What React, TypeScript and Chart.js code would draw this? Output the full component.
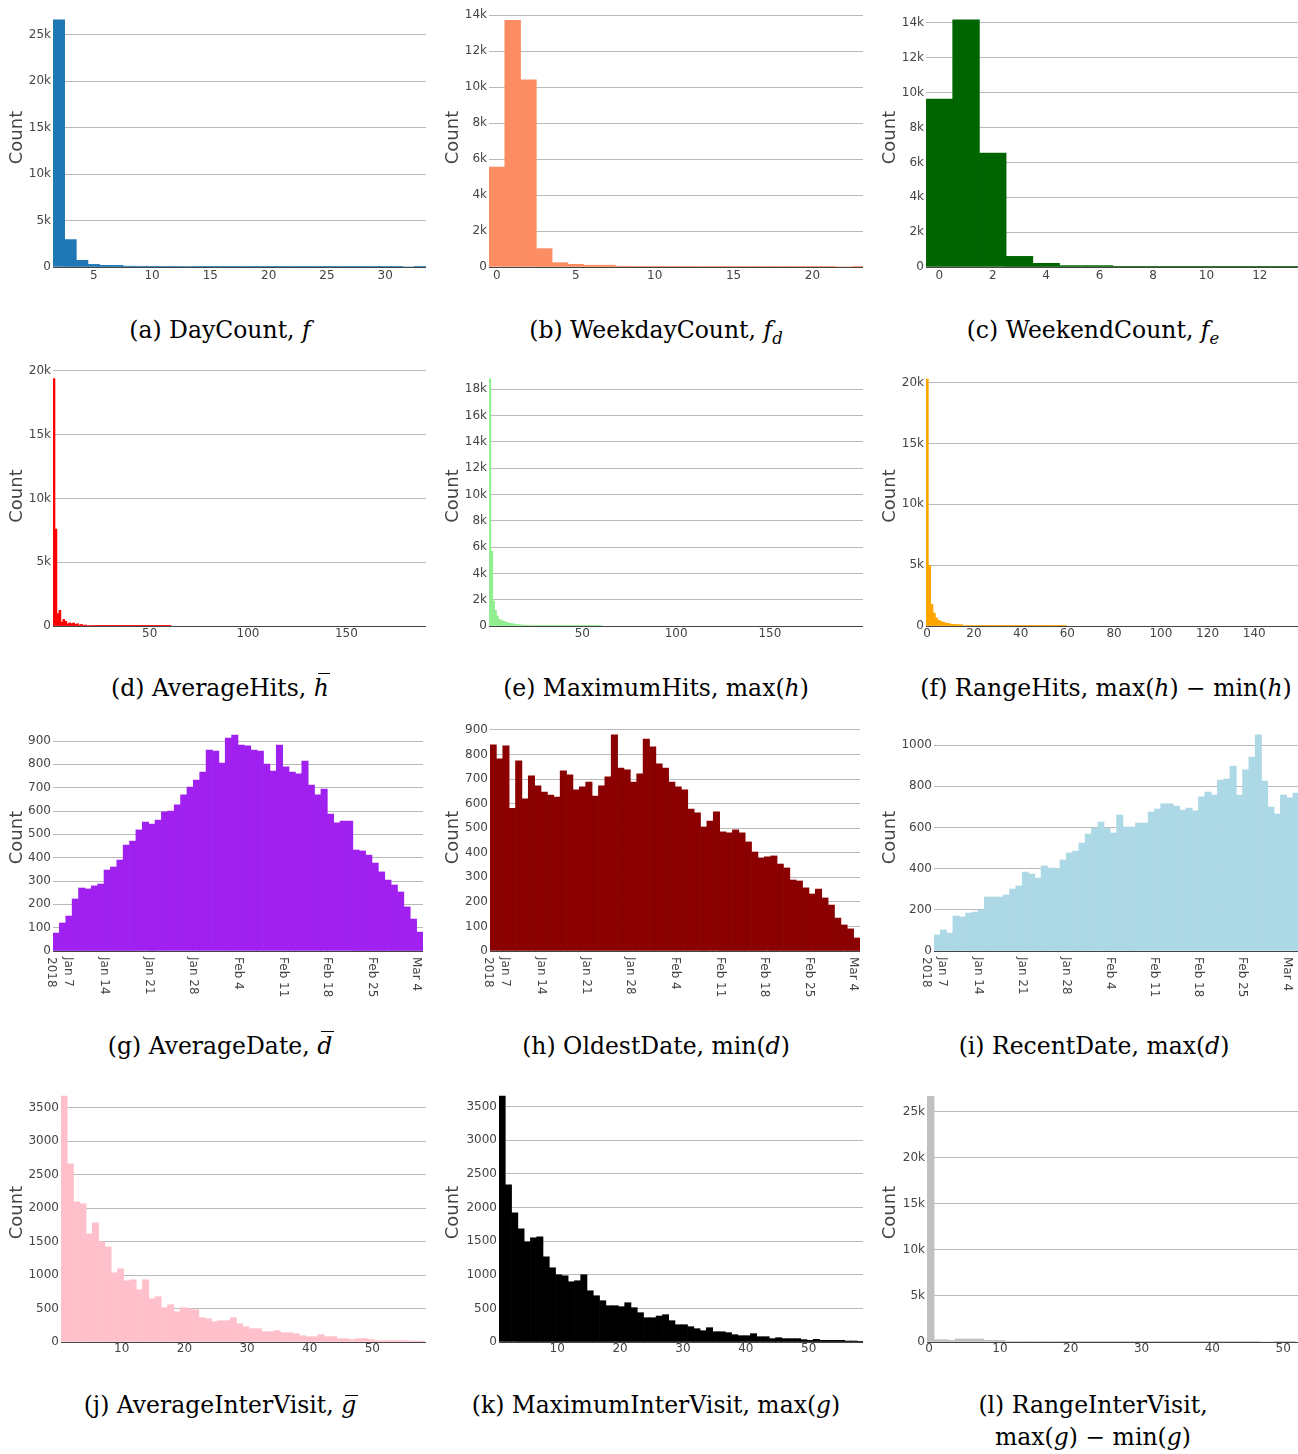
import React, { useEffect, useRef } from 'react';
import { Chart, registerables } from 'chart.js';

Chart.register(...registerables);

// ---------------- data (counts per bin) ----------------
const DAY_COUNT = [26600, 2950, 720, 280, 180, 180, 90, 80, 80, 70, 70, 60, 30, 28, 25, 22, 20, 18, 16, 14, 13, 12, 11, 10, 9, 8, 8, 7, 6, 5, 0, 5];
const WEEKDAY_COUNT = [5550, 13700, 10400, 1020, 240, 150, 100, 100, 45, 40, 40, 40, 40, 20, 18, 16, 14, 12, 10, 9, 8, 6, 0, 5];
const WEEKEND_COUNT = [9630, 14180, 6530, 610, 210, 80, 80, 40, 40, 15, 12, 10, 8, 6];
const AVERAGE_HITS = [19400, 7600, 970, 1230, 310, 520, 370, 180, 240, 180, 240, 130, 180, 80, 130, 50, 80, 40, 40, 35, 30, 30, 25, 25, 20, 20, 18, 16, 15, 14, 12, 12, 10, 10, 9, 9, 8, 8, 7, 7, 6, 6, 6, 5, 5, 5, 5, 4, 4, 4, 4, 3, 3, 3, 3, 3, 2, 2, 2, 2];
const MAXIMUM_HITS = [18800, 5690, 1900, 1190, 760, 510, 430, 380, 330, 280, 230, 200, 180, 150, 130, 110, 95, 80, 70, 60, 50, 45, 40, 35, 30, 28, 26, 24, 22, 20, 18, 17, 16, 15, 14, 13, 12, 11, 10, 10, 9, 9, 8, 8, 7, 7, 6, 6, 6, 5, 5, 5, 4, 4, 4, 4, 3, 3, 3, 3];
const RANGE_HITS = [20300, 4990, 1780, 1070, 660, 470, 380, 300, 250, 220, 160, 140, 130, 120, 110, 100, 0, 60, 50, 45, 40, 35, 30, 28, 26, 24, 22, 20, 18, 16, 15, 14, 13, 12, 11, 10, 9, 9, 8, 8, 7, 7, 6, 6, 5, 5, 5, 4, 4, 4, 3, 3, 3, 3, 2, 2, 2, 2, 2, 2];
const AVERAGE_DATE = [77, 120, 150, 223, 270, 266, 279, 287, 347, 360, 390, 454, 471, 519, 553, 544, 561, 596, 600, 626, 669, 703, 733, 767, 861, 857, 806, 913, 926, 883, 879, 861, 857, 801, 771, 883, 789, 767, 759, 814, 711, 669, 694, 587, 549, 557, 557, 433, 429, 411, 377, 339, 304, 283, 253, 189, 137, 81];
const OLDEST_DATE = [839, 782, 835, 581, 774, 619, 713, 672, 647, 635, 627, 733, 717, 656, 668, 688, 631, 672, 709, 880, 745, 737, 688, 721, 863, 831, 762, 745, 688, 668, 656, 578, 562, 505, 529, 566, 485, 481, 493, 481, 444, 403, 379, 383, 387, 354, 338, 289, 285, 257, 232, 252, 216, 187, 134, 106, 90, 53];
const RECENT_DATE = [78, 102, 87, 170, 165, 184, 189, 199, 262, 262, 262, 272, 301, 316, 383, 374, 354, 413, 403, 400, 442, 476, 485, 524, 568, 597, 626, 597, 573, 660, 602, 602, 621, 621, 675, 689, 714, 714, 704, 684, 694, 680, 748, 772, 757, 830, 835, 898, 757, 879, 942, 1049, 825, 699, 665, 757, 743, 767];
const AVERAGE_INTERVISIT = [3675, 2660, 2093, 2064, 1616, 1780, 1497, 1422, 1034, 1094, 915, 930, 781, 930, 646, 676, 512, 557, 452, 512, 497, 482, 363, 348, 303, 318, 318, 363, 273, 229, 199, 199, 154, 154, 169, 139, 139, 124, 94, 80, 80, 109, 80, 80, 50, 50, 35, 50, 50, 35, 20, 20, 20, 20, 20, 18, 15, 12];
const MAXIMUM_INTERVISIT = [3658, 2337, 1921, 1683, 1490, 1550, 1564, 1267, 1104, 1000, 985, 896, 911, 1000, 762, 688, 614, 540, 540, 525, 584, 510, 436, 361, 361, 386, 406, 317, 257, 257, 228, 198, 168, 213, 153, 153, 139, 109, 94, 94, 124, 79, 79, 50, 64, 50, 50, 50, 35, 25, 40, 25, 25, 25, 25, 15, 15, 10];
const RANGE_INTERVISIT = [26700, 250, 250, 180, 330, 330, 330, 330, 180, 180, 180, 70, 70, 70, 70, 70, 70, 70, 30, 30, 30, 30, 30, 25, 25, 25, 25, 20, 20, 20, 20, 20, 15, 15, 15, 15, 15, 12, 12, 12, 12, 10, 10, 10, 10, 8, 8, 0, 0, 8, 6, 6];

// ---------------- tick values / labels ----------------
const X_TICKS_DAY = [5, 10, 15, 20, 25, 30];
const X_TICKS_WEEKDAY = [0, 5, 10, 15, 20];
const X_TICKS_WEEKEND = [0, 2, 4, 6, 8, 10, 12];
const X_TICKS_HITS = [50, 100, 150];
const X_TICKS_RANGE_HITS = [0, 20, 40, 60, 80, 100, 120, 140];
const X_TICKS_INTERVISIT = [10, 20, 30, 40, 50];
const X_TICKS_RANGE_INTERVISIT = [0, 10, 20, 30, 40, 50];
// day-of-2018 numbers (Jan 7 = 7, Feb 4 = 35, Mar 4 = 63)
const DATE_TICKS = [7, 14, 21, 28, 35, 42, 49, 56, 63];
const DATE_TICK_LABELS = [['Jan 7', '2018'], ['Jan 14'], ['Jan 21'], ['Jan 28'], ['Feb 4'], ['Feb 11'], ['Feb 18'], ['Feb 25'], ['Mar 4']];

const Y_TICKS_25K = [0, 5000, 10000, 15000, 20000, 25000];
const Y_TICKS_14K = [0, 2000, 4000, 6000, 8000, 10000, 12000, 14000];
const Y_TICKS_20K = [0, 5000, 10000, 15000, 20000];
const Y_TICKS_18K = [0, 2000, 4000, 6000, 8000, 10000, 12000, 14000, 16000, 18000];
const Y_TICKS_900 = [0, 100, 200, 300, 400, 500, 600, 700, 800, 900];
const Y_TICKS_1000 = [0, 200, 400, 600, 800, 1000];
const Y_TICKS_3500 = [0, 500, 1000, 1500, 2000, 2500, 3000, 3500];

// ---------------- styling / layout ----------------
const SANS = '"DejaVu Sans", Verdana, sans-serif';
const SERIF = '"DejaVu Serif", serif';
const TEXT_COLOR = '#444';
const GRID_COLOR = '#b9b9b9';
const ZERO_COLOR = '#444';
const PAD_TOP = 10;
const BIN_WIDTH = 1;
const COL_X = [0, 433, 866];
const TITLE_PAD = [6.2, 10, 13.9];
const ROWS = [
  { top: 8, bottom: 267, xPad: 2 },
  { top: 366, bottom: 626, xPad: 1 },
  { top: 724, bottom: 951, xPad: 0 },
  { top: 1083, bottom: 1342, xPad: 0 },
];

type PanelSpec = {
  id: string; col: number; row: number; plotLeft: number; plotRight: number;
  xMin: number; xMax: number; yMax: number; values: number[]; color: string;
  xTicks: number[]; yTicks: number[]; kFmt: boolean; dates?: boolean;
};

const PANELS: PanelSpec[] = [
  { id: 'a', col: 0, row: 0, plotLeft: 53, plotRight: 426, xMin: 1.5, xMax: 33.5, yMax: 27880, values: DAY_COUNT, color: '#1f77b4', xTicks: X_TICKS_DAY, yTicks: Y_TICKS_25K, kFmt: true },
  { id: 'b', col: 1, row: 0, plotLeft: 489, plotRight: 863, xMin: -0.5, xMax: 23.2, yMax: 14390, values: WEEKDAY_COUNT, color: '#fc8d62', xTicks: X_TICKS_WEEKDAY, yTicks: Y_TICKS_14K, kFmt: true },
  { id: 'c', col: 2, row: 0, plotLeft: 926, plotRight: 1298, xMin: -0.5, xMax: 13.43, yMax: 14860, values: WEEKEND_COUNT, color: '#006400', xTicks: X_TICKS_WEEKEND, yTicks: Y_TICKS_14K, kFmt: true },
  { id: 'd', col: 0, row: 1, plotLeft: 53, plotRight: 426, xMin: 0.84, xMax: 190.46, yMax: 20390, values: AVERAGE_HITS, color: '#ff0000', xTicks: X_TICKS_HITS, yTicks: Y_TICKS_20K, kFmt: true },
  { id: 'e', col: 1, row: 1, plotLeft: 489, plotRight: 863, xMin: 0.3, xMax: 199.6, yMax: 19770, values: MAXIMUM_HITS, color: '#90ee90', xTicks: X_TICKS_HITS, yTicks: Y_TICKS_18K, kFmt: true },
  { id: 'f', col: 2, row: 1, plotLeft: 926, plotRight: 1298, xMin: -0.5, xMax: 158.7, yMax: 21370, values: RANGE_HITS, color: '#ffa500', xTicks: X_TICKS_RANGE_HITS, yTicks: Y_TICKS_20K, kFmt: true },
  { id: 'g', col: 0, row: 2, plotLeft: 53, plotRight: 423, xMin: 6, xMax: 64, yMax: 973, values: AVERAGE_DATE, color: '#a020f0', xTicks: DATE_TICKS, yTicks: Y_TICKS_900, kFmt: false, dates: true },
  { id: 'h', col: 1, row: 2, plotLeft: 490, plotRight: 860, xMin: 6, xMax: 64, yMax: 924, values: OLDEST_DATE, color: '#8b0000', xTicks: DATE_TICKS, yTicks: Y_TICKS_900, kFmt: false, dates: true },
  { id: 'i', col: 2, row: 2, plotLeft: 934, plotRight: 1298, xMin: 7, xMax: 64.8, yMax: 1102, values: RECENT_DATE, color: '#add8e6', xTicks: DATE_TICKS, yTicks: Y_TICKS_1000, kFmt: false, dates: true },
  { id: 'j', col: 0, row: 3, plotLeft: 61, plotRight: 426, xMin: 0.31, xMax: 58.56, yMax: 3869, values: AVERAGE_INTERVISIT, color: '#ffc0cb', xTicks: X_TICKS_INTERVISIT, yTicks: Y_TICKS_3500, kFmt: false },
  { id: 'k', col: 1, row: 3, plotLeft: 499, plotRight: 863, xMin: 0.73, xMax: 58.65, yMax: 3852, values: MAXIMUM_INTERVISIT, color: '#000000', xTicks: X_TICKS_INTERVISIT, yTicks: Y_TICKS_3500, kFmt: false },
  { id: 'l', col: 2, row: 3, plotLeft: 927, plotRight: 1298, xMin: -0.3, xMax: 52.1, yMax: 28150, values: RANGE_INTERVISIT, color: '#c0c0c0', xTicks: X_TICKS_RANGE_INTERVISIT, yTicks: Y_TICKS_25K, kFmt: true },
];

function makeDatePlugin(ticks: number[], labels: string[][]) {
  return {
    id: 'rotatedDateTicks',
    afterDraw(chart: any) {
      const xs = chart.scales.x;
      const ctx = chart.ctx;
      const y0 = chart.chartArea.bottom + 6;
      ctx.save();
      ctx.font = `12px ${SANS}`;
      ctx.fillStyle = TEXT_COLOR;
      ctx.textAlign = 'left';
      ctx.textBaseline = 'middle';
      ticks.forEach((v, i) => {
        const px = xs.getPixelForValue(v);
        const lines = labels[i];
        ctx.save();
        ctx.translate(px, y0);
        ctx.rotate(Math.PI / 2);
        lines.forEach((t, k) => ctx.fillText(t, 0, (k - (lines.length - 1) / 2) * 16.5));
        ctx.restore();
      });
      ctx.restore();
    },
  };
}

function Panel({ p }: { p: PanelSpec }) {
  const ref = useRef<HTMLCanvasElement>(null);
  const row = ROWS[p.row];
  const colX = COL_X[p.col];
  const xH = p.dates ? 56 : 22;
  const top = row.top - PAD_TOP;
  const width = p.plotRight - colX;
  const height = row.bottom + xH - top;
  const yW = p.plotLeft - colX;

  useEffect(() => {
    const canvas = ref.current;
    if (!canvas) return;
    const data = p.values.map((v, i) => ({ x: p.xMin + (i + 0.5) * BIN_WIDTH, y: v }));
    const fmtY = (v: number) => (p.kFmt && v !== 0 ? `${v / 1000}k` : String(v));
    const chart = new Chart(canvas, {
      type: 'bar',
      data: {
        datasets: [{
          data: data as any,
          backgroundColor: p.color,
          borderWidth: 0,
          barPercentage: 1,
          categoryPercentage: 1,
        }],
      },
      options: {
        responsive: false,
        maintainAspectRatio: false,
        animation: false,
        events: [],
        layout: { padding: { top: PAD_TOP, left: 0, right: 0, bottom: 0 } },
        plugins: { legend: { display: false }, tooltip: { enabled: false } },
        scales: {
          x: {
            type: 'linear',
            bounds: 'data',
            min: p.xMin,
            max: p.xMax,
            offset: false,
            grid: { display: false, drawTicks: false },
            border: { display: false },
            ticks: {
              display: !p.dates,
              autoSkip: false,
              maxRotation: 0,
              minRotation: 0,
              padding: row.xPad,
              color: TEXT_COLOR,
              font: { family: SANS, size: 12 },
              callback: (v: any) => String(v),
            },
            afterBuildTicks: (scale: any) => { scale.ticks = p.xTicks.map((v) => ({ value: v })); },
            afterFit: (scale: any) => { scale.height = xH; },
          } as any,
          y: {
            type: 'linear',
            bounds: 'data',
            min: 0,
            max: p.yMax,
            grid: {
              color: (c: any) => (c.tick && c.tick.value === 0 ? ZERO_COLOR : GRID_COLOR),
              lineWidth: 1,
              drawTicks: false,
            },
            border: { display: false },
            ticks: {
              autoSkip: false,
              padding: 2,
              color: TEXT_COLOR,
              font: { family: SANS, size: 12 },
              callback: (v: any) => fmtY(Number(v)),
            },
            title: {
              display: true,
              text: 'Count',
              color: TEXT_COLOR,
              font: { family: SANS, size: 18 },
              padding: { top: TITLE_PAD[p.col], bottom: 0 },
            },
            afterBuildTicks: (scale: any) => { scale.ticks = p.yTicks.map((v) => ({ value: v })); },
            afterFit: (scale: any) => { scale.width = yW; },
          } as any,
        },
      },
      plugins: p.dates ? [makeDatePlugin(DATE_TICKS, DATE_TICK_LABELS) as any] : [],
    });
    return () => chart.destroy();
  }, [p]);

  return (
    <canvas
      ref={ref}
      width={width}
      height={height}
      style={{ position: 'absolute', left: colX, top, width, height }}
    />
  );
}

const SUB: React.CSSProperties = { fontSize: '0.7em', position: 'relative', top: '0.35em', verticalAlign: 'baseline' };
const CAP_LH = 32;

function Bar({ ch, top }: { ch: string; top: string }) {
  return (
    <span style={{ position: 'relative', display: 'inline-block', lineHeight: 1 }}>
      <i>{ch}</i>
      <span style={{ position: 'absolute', left: '0.16em', right: '-0.06em', top, borderTop: '1.4px solid #000' }} />
    </span>
  );
}

const CAPTIONS = [
  { cx: 220, cy: 330, node: <>(a) DayCount, <i>f</i></> },
  { cx: 656, cy: 330, node: <>(b) WeekdayCount, <i>f</i><sub style={SUB}><i>d</i></sub></> },
  { cx: 1093, cy: 330, node: <>(c) WeekendCount, <i>f</i><sub style={SUB}><i>e</i></sub></> },
  { cx: 220, cy: 688, node: <>(d) AverageHits, <Bar ch="h" top="-0.16em" /></> },
  { cx: 656, cy: 688, node: <>(e) MaximumHits, max(<i>h</i>)</> },
  { cx: 1106, cy: 688, node: <>(f) RangeHits, max(<i>h</i>) − min(<i>h</i>)</> },
  { cx: 220, cy: 1046, node: <>(g) AverageDate, <Bar ch="d" top="-0.16em" /></> },
  { cx: 656, cy: 1046, node: <>(h) OldestDate, min(<i>d</i>)</> },
  { cx: 1094, cy: 1046, node: <>(i) RecentDate, max(<i>d</i>)</> },
  { cx: 220, cy: 1405, node: <>(j) AverageInterVisit, <Bar ch="g" top="0.06em" /></> },
  { cx: 656, cy: 1405, node: <>(k) MaximumInterVisit, max(<i>g</i>)</> },
  { cx: 1093, cy: 1421, node: <>(l) RangeInterVisit,<br />max(<i>g</i>) − min(<i>g</i>)</>, lines: 2 },
];

export default function App() {
  return (
    <div style={{ position: 'absolute', left: 0, top: 0, width: 1298, height: 1454, overflow: 'hidden', background: '#ffffff' }}>
      {PANELS.map((p) => <Panel key={p.id} p={p} />)}
      {CAPTIONS.map((c, i) => {
        const lines = (c as any).lines || 1;
        return (
          <div
            key={i}
            style={{
              position: 'absolute',
              left: c.cx - 300,
              width: 600,
              top: c.cy - (CAP_LH * lines) / 2,
              lineHeight: `${CAP_LH}px`,
              textAlign: 'center',
              fontFamily: SERIF,
              fontSize: 23.5,
              color: '#000',
              whiteSpace: 'nowrap',
            }}
          >
            {c.node}
          </div>
        );
      })}
    </div>
  );
}
